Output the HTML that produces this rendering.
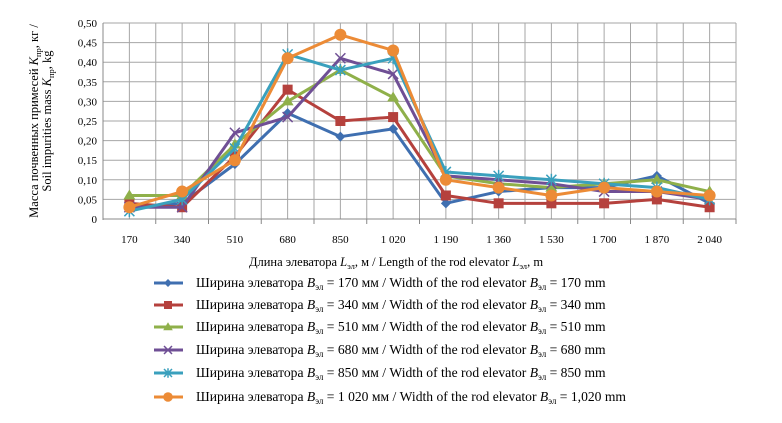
<!DOCTYPE html>
<html><head><meta charset="utf-8"><style>
body{margin:0;background:#fff;font-family:"Liberation Serif",serif;}
svg text{font-family:"Liberation Serif",serif;fill:#000;}
</style></head><body>
<svg id="chart" width="782" height="418" xmlns="http://www.w3.org/2000/svg">
<g id="grid"></g>
<g id="axes"></g>
<g id="series"></g>
<g id="legend"></g>
<text x="396" y="266" font-size="12.5" text-anchor="middle">Длина элеватора <tspan font-style="italic">L</tspan><tspan font-size="8.5" dy="3">эл</tspan><tspan dy="-3">, м / Length of the rod elevator </tspan><tspan font-style="italic">L</tspan><tspan font-size="8.5" dy="3">эл</tspan><tspan dy="-3">, m</tspan></text>
<text transform="translate(38,121) rotate(-90)" font-size="12.5" text-anchor="middle">Масса почвенных примесей <tspan font-style="italic">K</tspan><tspan font-size="8.5" dy="3">пр</tspan><tspan dy="-3">, кг /</tspan></text>
<text transform="translate(51,121) rotate(-90)" font-size="12.5" text-anchor="middle">Soil impurities mass <tspan font-style="italic">K</tspan><tspan font-size="8.5" dy="3">пр</tspan><tspan dy="-3">, kg</tspan></text>
</svg>
<script>
const categories=["170","340","510","680","850","1 020","1 190","1 360","1 530","1 700","1 870","2 040"];
const yTicks=[0,0.05,0.1,0.15,0.2,0.25,0.3,0.35,0.4,0.45,0.5];
const s170=[0.03,0.04,0.14,0.27,0.21,0.23,0.04,0.07,0.08,0.08,0.11,0.04];
const s340=[0.04,0.03,0.16,0.33,0.25,0.26,0.06,0.04,0.04,0.04,0.05,0.03];
const s510=[0.06,0.06,0.19,0.30,0.38,0.31,0.11,0.09,0.08,0.09,0.10,0.07];
const s680=[0.03,0.03,0.22,0.26,0.41,0.37,0.11,0.10,0.09,0.07,0.07,0.05];
const s850=[0.02,0.05,0.18,0.42,0.38,0.41,0.12,0.11,0.10,0.09,0.08,0.05];
const s1020=[0.03,0.07,0.15,0.41,0.47,0.43,0.10,0.08,0.06,0.08,0.07,0.06];
const widths=["170","340","510","680","850","1 020"];
const widthsEn=["170","340","510","680","850","1,020"];
const NS="http://www.w3.org/2000/svg";
const L=103,R=736,T=23,B=219;
const cw=(R-L)/categories.length;
const xS=i=>L+cw*(i+0.5);
const yS=v=>B-(v/0.5)*(B-T);
function mk(tag,parent,attrs){const e=document.createElementNS(NS,tag);for(const k in attrs)e.setAttribute(k,attrs[k]);parent.appendChild(e);return e;}
const grid=document.getElementById('grid'),axes=document.getElementById('axes'),ser=document.getElementById('series'),leg=document.getElementById('legend');
yTicks.forEach(v=>{if(v>0){const l=mk('line',grid,{x1:L,x2:R,y1:yS(v),y2:yS(v),stroke:'#a6a6a6','stroke-width':1});

}
const t=mk('text',axes,{x:L-6,y:yS(v)+4,'font-size':11,'text-anchor':'end'});t.textContent=v===0?'0':v.toFixed(2).replace('.',',');

});
for(let k=1;k<=categories.length*2;k++){const x=L+cw*k/2;const l=mk('line',grid,{x1:x,x2:x,y1:T,y2:B,stroke:'#a6a6a6','stroke-width':1});

}
mk('line',axes,{x1:L,x2:L,y1:T,y2:B+1,stroke:'#888'});
mk('line',axes,{x1:L,x2:R,y1:B,y2:B,stroke:'#888'});
categories.forEach((c,i)=>{const t=mk('text',axes,{x:xS(i),y:B+24,'font-size':11,'text-anchor':'middle'});t.textContent=c;


mk('line',axes,{x1:L+cw*(i+1),x2:L+cw*(i+1),y1:B,y2:B+5,stroke:'#888'});});
const all=[s170,s340,s510,s680,s850,s1020];
const colors=['#3f6fb0','#b5413d','#8fb04a','#6f4f95','#3aa0bd','#ec8b36'];
const shapes=['diamond','square','triangle','x','star','circle'];
function marker(g,shape,x,y,c,k){k=k||1;
if(shape==='diamond')mk('polygon',g,{points:`${x},${y-5*k} ${x+5*k},${y} ${x},${y+5*k} ${x-5*k},${y}`,fill:c});
else if(shape==='square')mk('rect',g,{x:x-5*k,y:y-5*k,width:10*k,height:10*k,fill:c});
else if(shape==='triangle')mk('polygon',g,{points:`${x},${y-6*k} ${x+6*k},${y+4*k} ${x-6*k},${y+4*k}`,fill:c});
else if(shape==='x'){mk('path',g,{d:`M${x-5*k},${y-5*k}L${x+5*k},${y+5*k}M${x-5*k},${y+5*k}L${x+5*k},${y-5*k}`,stroke:c,'stroke-width':1.5});}
else if(shape==='star'){mk('path',g,{d:`M${x-5*k},${y-5*k}L${x+5*k},${y+5*k}M${x-5*k},${y+5*k}L${x+5*k},${y-5*k}M${x},${y-6*k}L${x},${y+6*k}`,stroke:c,'stroke-width':1.5});}
else mk('circle',g,{cx:x,cy:y,r:6*k,fill:c});}
all.forEach((s,si)=>{const g=mk('g',ser,{});


mk('polyline',g,{points:s.map((v,i)=>xS(i)+','+yS(v)).join(' '),fill:'none',stroke:colors[si],'stroke-width':3,'stroke-linejoin':'round'});
s.forEach((v,i)=>marker(g,shapes[si],xS(i),yS(v),colors[si]));});
const ly=[283,305,327,350,373,397];
all.forEach((s,si)=>{const g=mk('g',leg,{});


const y=ly[si];mk('line',g,{x1:154,x2:183,y1:y,y2:y,stroke:colors[si],'stroke-width':3});marker(g,shapes[si],168,y,colors[si],0.8);
const t=mk('text',g,{x:196,y:y+4,'font-size':13.6});
t.innerHTML=`Ширина элеватора <tspan font-style="italic">B</tspan><tspan font-size="9" dy="3">эл</tspan><tspan dy="-3"> = ${widths[si]} мм / Width of the rod elevator </tspan><tspan font-style="italic">B</tspan><tspan font-size="9" dy="3">эл</tspan><tspan dy="-3"> = ${widthsEn[si]} mm</tspan>`;});
</script>
</body></html>
